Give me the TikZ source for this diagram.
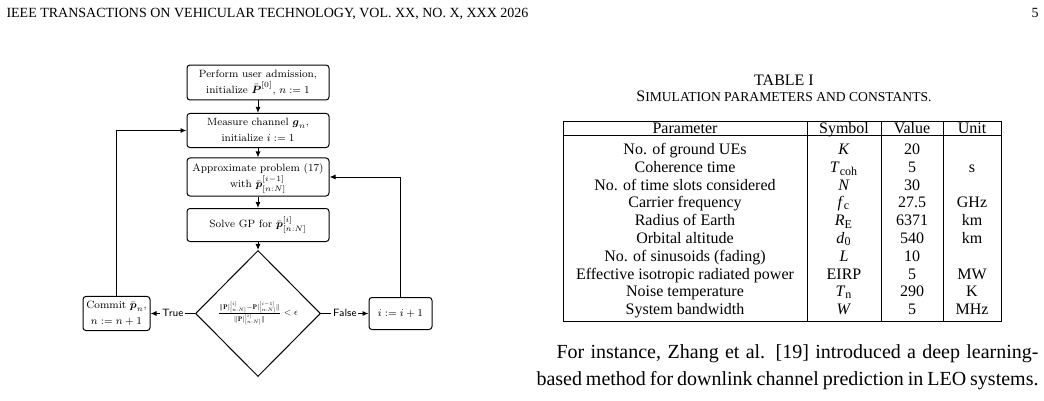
\documentclass[tikz,border=0pt]{standalone}
\usepackage{amsmath}
\usepackage{amssymb}
\usepackage{xcolor}
\usepackage{graphicx}
\usepackage{fontspec}
\usepackage{tikz}
\usetikzlibrary{shapes.geometric,arrows.meta}

\newfontfamily\pagefont{Liberation Serif}
\newcommand{\tablesize}{\pagefont\fontsize{8}{9}\selectfont}
% flowchart text is set at 8pt and shrunk, like a scaled figure
\newcommand{\flowtext}[1]{\scalebox{0.66}{\fontsize{8}{11.4}\selectfont\begin{tabular}{@{}c@{}}#1\end{tabular}}}

\begin{document}
\begin{tikzpicture}[
    x=0.5pt, y=-0.5pt, % one unit is one pixel of the page, y runs down
    >={Latex[length=3pt,width=2.5pt]},
    line width=0.5pt,
    flowbox/.style={draw, rounded corners=1.5pt, minimum width=71pt, minimum height=16.5pt, align=center, inner sep=1pt}, % steps of the loop
    smallbox/.style={flowbox, minimum width=32pt, minimum height=16pt}, % side boxes
    decision/.style={draw, diamond, minimum width=62.5pt, minimum height=63pt, inner sep=0pt}, % stopping test
    flowlabel/.style={fill=white, inner sep=1pt}, % True / False
    tablecell/.style={anchor=base, inner sep=0pt, font=\tablesize},
    pagetext/.style={inner sep=0pt, font=\pagefont\fontsize{10}{12}\selectfont}
]
\fill[white] (0,0) rectangle (1044,401);
\useasboundingbox (0,0) rectangle (1044,401);

% running head
\node[pagetext, anchor=base west, font=\pagefont\fontsize{7}{8}\selectfont] (head) at (6,17.5) {IEEE TRANSACTIONS ON VEHICULAR TECHNOLOGY, VOL. XX, NO. X, XXX 2026};
\node[pagetext, anchor=base east, font=\pagefont\fontsize{7}{8}\selectfont] (pagenum) at (1039,17.5) {5};

% flowchart
\node[flowbox] (admit) at (258,82.5) {\flowtext{Perform user admission,\\ initialize $\bar{\boldsymbol{P}}^{[0]}$, $n:=1$}};
\node[flowbox] (measure) at (258,130.5) {\flowtext{Measure channel $\boldsymbol{g}_n$,\\ initialize $i:=1$}};
\node[flowbox, minimum height=19pt] (approx) at (258,177) {\flowtext{Approximate problem (17)\\ with $\bar{\boldsymbol{p}}^{[i-1]}_{[n:N]}$}};
\node[flowbox] (solve) at (258,225) {\flowtext{Solve GP for $\bar{\boldsymbol{p}}^{[i]}_{[n:N]}$}};
\node[decision] (check) at (258,313.5) {\resizebox{40pt}{!}{$\frac{\|\mathbf{P}|^{[i]}_{[n:N]}-\mathbf{P}|^{[i-1]}_{[n:N]}\|}{\|\mathbf{P}|^{[i]}_{[n:N]}\|}<\epsilon$}};
\node[smallbox, minimum width=33.5pt] (commit) at (116.5,313.5) {\flowtext{Commit $\bar{\boldsymbol{p}}_n$,\\ $n:=n+1$}};
\node[smallbox, minimum width=31.5pt] (incr) at (400.5,313.5) {\flowtext{$i:=i+1$}};

\draw[->] (admit) -- (measure);
\draw[->] (measure) -- (approx);
\draw[->] (approx) -- (solve);
\draw[->] (solve) -- (check);
\draw[->] (check.west) -- node[flowlabel] {\flowtext{\sffamily True}} (commit.east);
\draw[->] (check.east) -- node[flowlabel] {\flowtext{\sffamily False}} (incr.west);
\draw[->] (commit.north) |- (measure.west);
\draw[->] (incr.north) |- (approx.east);

% table caption
\node[tablecell] (tabnum) at (784,86) {TABLE I};
\node[tablecell] (tabcap) at (784,101.5) {S{\fontsize{6.8}{9}\selectfont IMULATION PARAMETERS AND CONSTANTS.}};

% table frame
\draw (563,122) rectangle (1001,321);
\draw (563,136) -- (1001,136);
\foreach \x in {807,881,943} \draw (\x,122) -- (\x,321);

\node[tablecell] (hpar) at (685,133.5) {Parameter};
\node[tablecell] (hsym) at (844,133.5) {Symbol};
\node[tablecell] (hval) at (912,133.5) {Value};
\node[tablecell] (hunit) at (972,133.5) {Unit};

\foreach \para/\sym/\val/\unit [count=\r from 0] in {
    No. of ground UEs/\textit{K}/20/,
    Coherence time/\textit{T}\textsubscript{coh}/5/s,
    No. of time slots considered/\textit{N}/30/,
    Carrier frequency/\textit{f}\textsubscript{c}/27.5/GHz,
    Radius of Earth/\textit{R}\textsubscript{E}/6371/km,
    Orbital altitude/\textit{d}\textsubscript{0}/540/km,
    No. of sinusoids (fading)/\textit{L}/10/,
    Effective isotropic radiated power/EIRP/5/MW,
    Noise temperature/\textit{T}\textsubscript{n}/290/K,
    System bandwidth/\textit{W}/5/MHz} {
  \node[tablecell] (par\r) at (685,154.5+17.8*\r) {\para};
  \node[tablecell] (sym\r) at (844,154.5+17.8*\r) {\sym};
  \node[tablecell] (val\r) at (912,154.5+17.8*\r) {\val};
  \node[tablecell] (unit\r) at (972,154.5+17.8*\r) {\unit};
}

% body text
\node[pagetext, anchor=base west] (line1) at (556,358) {\makebox[241pt][s]{For instance, Zhang et al. [19] introduced a deep learning-}};
\node[pagetext, anchor=base west] (line2) at (536,385) {\makebox[251pt][s]{based method for downlink channel prediction in LEO systems.}};
\end{tikzpicture}
\end{document}
